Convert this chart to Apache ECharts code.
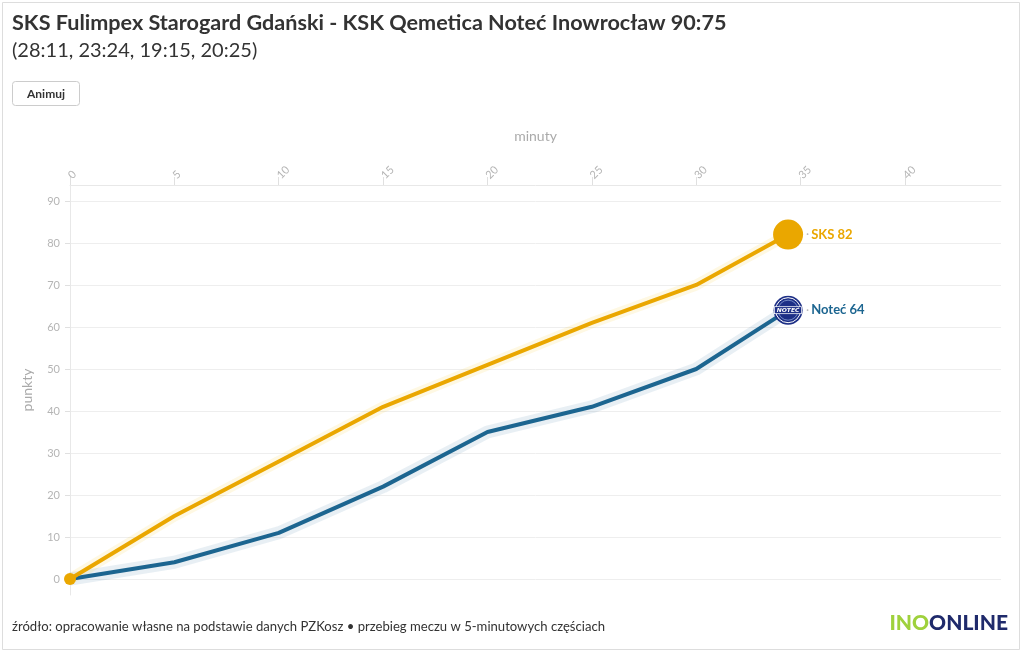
<!DOCTYPE html>
<html>
<head>
<meta charset="utf-8">
<script src="https://cdn.jsdelivr.net/npm/echarts@6/dist/echarts.min.js"></script>
<style>
html,body{margin:0;padding:0;background:#fff;}
#chart{width:1020px;height:650px;}
</style>
</head>
<body>
<div id="chart"></div>
<script>
// ---- data ----
const minutes = [0, 5, 10, 15, 20, 25, 30, 34.4];
const sksPoints = [0, 15, 28, 41, 51, 61, 70, 82];
const notecPoints = [0, 4, 11, 22, 35, 41, 50, 64];
const yTickValues = [0, 10, 20, 30, 40, 50, 60, 70, 80, 90];
const titleText = 'SKS Fulimpex Starogard Gdański - KSK Qemetica Noteć Inowrocław 90:75';
const subtitleText = '(28:11, 23:24, 19:15, 20:25)';
const footerText = 'źródło: opracowanie własne na podstawie danych PZKosz • przebieg meczu w 5-minutowych częściach';
const sksName = 'SKS';
const notecName = 'Noteć';

const SKS_COLOR = '#eaa700';
const NOTEC_COLOR = '#1c6590';
const FONT = 'Lato, "Noto Sans", sans-serif';

const logoSvg = "<svg xmlns='http://www.w3.org/2000/svg' width='60' height='60' viewBox='0 0 60 60'>" +
  "<circle cx='30' cy='30' r='29' fill='#1d2f86'/>" +
  "<circle cx='30' cy='30' r='25' fill='none' stroke='#ffffff' stroke-width='2'/>" +
  "<circle cx='30' cy='30' r='20' fill='none' stroke='#8fa6d8' stroke-width='1.5'/>" +
  "<rect x='3' y='23' width='54' height='14' fill='#1d2f86' stroke='#ffffff' stroke-width='1.5'/>" +
  "<text x='30' y='34.5' font-family='DejaVu Sans' font-weight='bold' font-style='italic' font-size='12' text-anchor='middle' fill='#ffffff'>NOTEĆ</text>" +
  "</svg>";
const logoUri = 'image://data:image/svg+xml;charset=utf-8,' + encodeURIComponent(logoSvg);

function pairs(values) {
  return minutes.map((m, i) => [m, values[i]]);
}

function withSymbols(values, first, last) {
  const n = values.length;
  return pairs(values).map((p, i) => {
    const item = { value: p };
    if (i === 0 && first) { item.symbolSize = first.size; item.symbol = first.symbol || 'circle'; }
    else if (i === n - 1 && last) { item.symbolSize = last.size; item.symbol = last.symbol || 'circle'; }
    else { item.symbolSize = 0; item.symbol = 'none'; }
    return item;
  });
}

const chart = echarts.init(document.getElementById('chart'), null, { renderer: 'canvas' });

const labelRich = color => ({
  d: { color: '#bbbbbb', fontSize: 12, padding: [0, 2, 0, 0] },
  n: { color: color, fontSize: 13, fontWeight: 'bold', fontFamily: FONT }
});

const option = {
  animation: false,
  backgroundColor: '#ffffff',
  textStyle: { fontFamily: FONT },
  grid: { left: 70, right: 19, top: 185, bottom: 55 },
  xAxis: {
    type: 'value',
    position: 'top',
    min: 0,
    max: 44.6,
    interval: 5,
    name: 'minuty',
    nameLocation: 'middle',
    nameGap: 42,
    nameTextStyle: { color: '#aaaaaa', fontSize: 14, fontFamily: FONT },
    axisLine: { show: true, onZero: false, lineStyle: { color: '#e8e8e8', width: 1 } },
    axisTick: { show: true, length: 8, lineStyle: { color: '#e0e0e0' } },
    axisLabel: { rotate: -45, align: 'left', verticalAlign: 'middle', margin: 8, color: '#b5b5b5', fontSize: 11, fontFamily: FONT, showMaxLabel: false },
    splitLine: { show: false }
  },
  yAxis: {
    type: 'value',
    min: -3.8,
    max: 93.8,
    name: 'punkty',
    nameLocation: 'middle',
    nameGap: 36,
    nameTextStyle: { color: '#aaaaaa', fontSize: 14, fontFamily: FONT },
    axisLine: { show: true, onZero: false, lineStyle: { color: '#e8e8e8', width: 1 } },
    axisTick: { show: true, length: 5, customValues: yTickValues, lineStyle: { color: '#e0e0e0' } },
    axisLabel: { customValues: yTickValues, margin: 10, color: '#b5b5b5', fontSize: 11, fontFamily: FONT },
    splitLine: { show: true, lineStyle: { color: '#eeeeee', width: 1 } }
  },
  series: [
    {
      name: notecName + ' glow',
      type: 'line',
      data: pairs(notecPoints),
      showSymbol: false,
      silent: true,
      lineStyle: { color: NOTEC_COLOR, width: 13, opacity: 0.1 },
      z: 1
    },
    {
      name: sksName + ' glow',
      type: 'line',
      data: pairs(sksPoints),
      showSymbol: false,
      silent: true,
      lineStyle: { color: '#f5c518', width: 11, opacity: 0.12 },
      z: 1
    },
    {
      name: notecName,
      type: 'line',
      data: withSymbols(notecPoints, null, { size: 30, symbol: logoUri }),
      showAllSymbol: true,
      itemStyle: { color: NOTEC_COLOR },
      lineStyle: { color: NOTEC_COLOR, width: 4 },
      z: 3,
      endLabel: {
        show: true,
        distance: 18,
        formatter: p => '{d|·}{n|' + p.seriesName + ' ' + p.value[1] + '}',
        rich: labelRich(NOTEC_COLOR)
      }
    },
    {
      name: sksName,
      type: 'line',
      data: withSymbols(sksPoints, { size: 12 }, { size: 30 }),
      showAllSymbol: true,
      itemStyle: { color: SKS_COLOR },
      lineStyle: { color: SKS_COLOR, width: 4 },
      z: 4,
      endLabel: {
        show: true,
        distance: 18,
        formatter: p => '{d|·}{n|' + p.seriesName + ' ' + p.value[1] + '}',
        rich: labelRich(SKS_COLOR)
      }
    }
  ],
  graphic: [
    { type: 'rect', left: 0, top: 0, shape: { x: 0.5, y: 0.5, width: 1017, height: 647 }, style: { fill: 'none', stroke: '#dddddd', lineWidth: 1 }, silent: true, z: -10 },
    { type: 'text', left: 12, top: 12, style: { text: titleText, fill: '#333333', font: 'bold 21.6px ' + FONT } },
    { type: 'text', left: 12, top: 41, style: { text: subtitleText, fill: '#333333', font: '20px ' + FONT } },
    { type: 'group', left: 12, top: 81, children: [
      { type: 'rect', shape: { x: 0.5, y: 0.5, width: 67, height: 24, r: 3 }, style: { fill: '#ffffff', stroke: '#cccccc', lineWidth: 1 } },
      { type: 'text', x: 34, y: 13, style: { text: 'Animuj', fill: '#333333', font: 'bold 12px ' + FONT, align: 'center', verticalAlign: 'middle' } }
    ]},
    { type: 'text', left: 12, top: 620, style: { text: footerText, fill: '#333333', font: '13.1px ' + FONT } },
    { type: 'text', right: 12, top: 613, style: {
      text: '{g|INO}{b|ONLINE}',
      rich: {
        g: { fill: '#9fd13c', font: '900 21px ' + FONT },
        b: { fill: '#1f2a6b', font: '900 21px ' + FONT }
      }
    } }
  ]
};

chart.setOption(option);
</script>
</body>
</html>
